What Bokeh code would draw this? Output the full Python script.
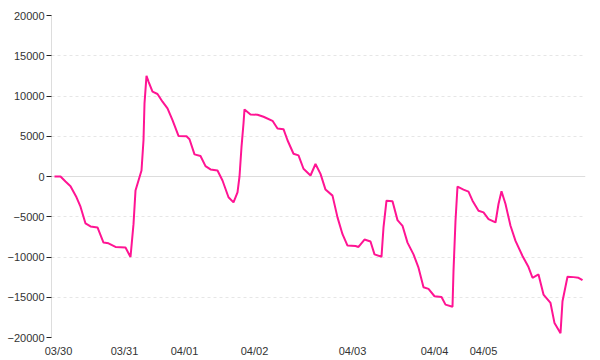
from bokeh.plotting import figure
from bokeh.models import FixedTicker, Span, Range1d
from bokeh.embed import file_html
from bokeh.resources import INLINE

# sample index (time axis) and value
t = [0, 1.5, 2.75, 4, 5.5, 6.5, 7.75, 9, 10.75, 12.25, 13.5, 15.25, 17.75, 19,
     19.75, 20.25, 21, 21.75, 22.25, 22.5, 23, 23.5, 24.5, 25.75, 27, 28.25, 29.5,
     31, 33, 33.75, 35, 36.5, 37.75, 39, 40.75, 42, 43.5, 44.75, 45.75, 46.25,
     46.75, 47.25, 47.5, 49, 50.75, 52.25, 54.5, 55.75, 57.25, 58.25, 59.75, 61,
     62.25, 64, 65.25, 66.5, 67.75, 69.5, 70.75, 72, 73.25, 75.25, 76, 77.5, 79,
     80, 81.75, 82.25, 83, 84.5, 85.75, 87, 88.25, 89.75, 91, 92.25, 93.5, 95,
     96.75, 97.75, 99.5, 99.75, 100.25, 100.75, 102.25, 103.5, 104.5, 106, 107.25,
     108.5, 110.25, 111, 111.75, 112.75, 114, 115.25, 117, 118.5, 119.5, 121,
     122.25, 124, 125, 126.5, 127, 128.25, 129.75, 131, 132]
v = [0, 0, -625, -1200, -2580, -3750, -5830, -6200, -6330, -8200, -8300, -8750,
     -8830, -10000, -5920, -1750, -500, 750, 4500, 9080, 12500, 11800, 10540,
     10250, 9290, 8460, 7000, 5040, 5000, 4625, 2750, 2540, 1290, 875, 750, -500,
     -2580, -3210, -1960, 0, 3670, 6580, 8330, 7710, 7670, 7420, 6920, 5960, 5875,
     4500, 2830, 2625, 960, 125, 1550, 330, -1625, -2375, -5080, -7170, -8580,
     -8625, -8750, -7830, -8080, -9670, -9960, -6330, -3000, -3080, -5420, -6125,
     -8210, -9670, -11330, -13750, -13960, -14875, -14960, -15920, -16170, -11750,
     -5500, -1250, -1625, -1875, -3000, -4250, -4460, -5290, -5710, -3420, -1830,
     -3420, -6125, -8000, -9875, -11250, -12580, -12170, -14670, -15710, -18210,
     -19460, -15500, -12460, -12500, -12580, -12875]

x_tick_pos = [1, 17.5, 32.5, 50, 74.5, 95, 107.25]
x_tick_labels = ["03/30", "03/31", "04/01", "04/02", "04/03", "04/04", "04/05"]
y_ticks = [-20000, -15000, -10000, -5000, 0, 5000, 10000, 15000, 20000]

p = figure(width=600, height=360, output_backend="svg", toolbar_location=None,
           x_range=Range1d(-0.75, 132.75), y_range=Range1d(-20000, 20000),
           min_border_left=51, min_border_right=15, min_border_top=15,
           min_border_bottom=23)
p.outline_line_color = None
p.background_fill_color = "white"

# y axis
p.yaxis.ticker = FixedTicker(ticks=y_ticks)
p.yaxis.axis_line_color = "#dddddd"
p.yaxis.major_tick_line_color = "#222222"
p.yaxis.major_tick_line_width = 1
p.yaxis.major_tick_in = 0
p.yaxis.major_tick_out = 5
p.yaxis.minor_tick_line_color = None
p.yaxis.major_label_text_font = "Liberation Sans"
p.yaxis.major_label_text_font_size = "11px"
p.yaxis.major_label_text_color = "#333333"
p.yaxis.major_label_standoff = 2

# x axis
p.xaxis.ticker = FixedTicker(ticks=x_tick_pos)
p.xaxis.major_label_overrides = {pos: lab for pos, lab in zip(x_tick_pos, x_tick_labels)}
p.xaxis.axis_line_color = None
p.xaxis.major_tick_line_color = None
p.xaxis.minor_tick_line_color = None
p.xaxis.major_tick_out = 0
p.xaxis.major_tick_in = 0
p.xaxis.major_label_standoff = 7
p.xaxis.major_label_text_font = "Liberation Sans"
p.xaxis.major_label_text_font_size = "11px"
p.xaxis.major_label_text_color = "#333333"

# grids
p.xgrid.grid_line_color = None
p.ygrid.ticker = FixedTicker(ticks=[tk for tk in y_ticks if tk != 0])
p.ygrid.grid_line_color = "#e6e6e6"
p.ygrid.grid_line_dash = "3 3"
p.ygrid.grid_line_width = 1

zero = Span(location=0, dimension="width", line_color="#dddddd", line_width=1,
            level="underlay")
p.add_layout(zero)

p.line(t, v, line_color="#ff1493", line_width=2)

open("out.html", "w").write(file_html(p, INLINE))
